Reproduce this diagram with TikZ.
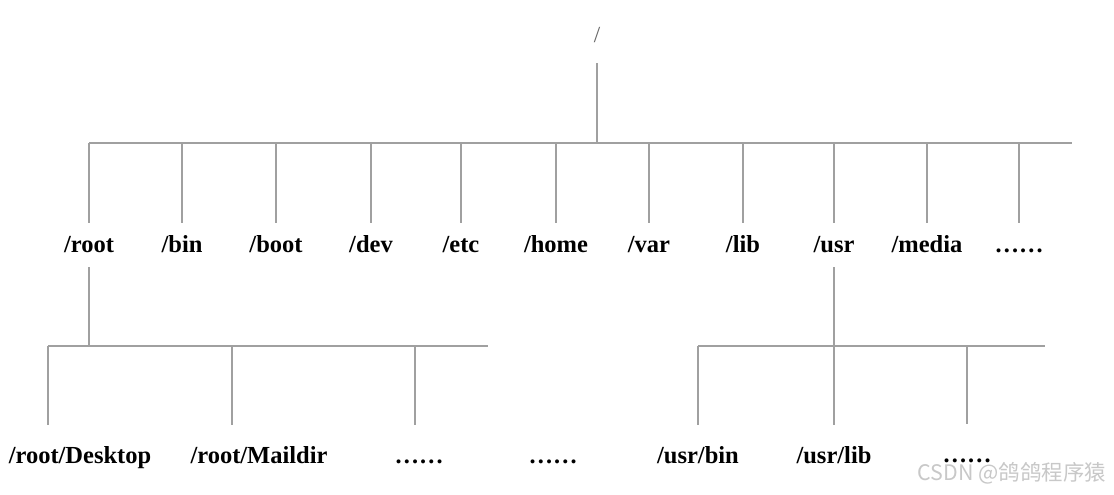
\documentclass[tikz,border=0pt]{standalone}
\usepackage{fontspec}
\setmainfont{Liberation Serif}
\newfontfamily\cjk{Noto Sans CJK SC}
\usetikzlibrary{positioning}
\definecolor{linegray}{RGB}{160,160,160}
\definecolor{slashgray}{RGB}{100,100,100}
\definecolor{wmgray}{RGB}{200,200,200}

\begin{document}
\begin{tikzpicture}[x=1pt,y=-1pt,
  ln/.style={draw=linegray,line width=1.4pt},
  dir/.style={font=\fontsize{24.5}{28}\selectfont\bfseries,anchor=base,
    text height=17pt,text depth=3pt,inner xsep=1pt,inner ysep=#1},
  dir/.default=12pt]
\fill[white] (0,0) rectangle (1114,495);
\useasboundingbox (0,0) rectangle (1114,495);
% top of the tree
\node[font=\fontsize{23}{26}\selectfont,text=slashgray,anchor=base,
  text depth=0pt,inner ysep=20pt] (rootdir) at (597,43) {/};
\coordinate (busl) at (89,143);
\coordinate (busr) at (1072,143);
\draw[ln] (rootdir.south) -- (rootdir.south |- busl);
\draw[ln] (busl) -- (busr);
% first level
\foreach \x/\nm/\lbl in {89/root/{/root},182/bin/{/bin},276/boot/{/boot},
    371/dev/{/dev},461/etc/{/etc},556/home/{/home},649/var/{/var},
    743/lib/{/lib},834/usr/{/usr},927/media/{/media},1019/more/{……}}{
  \node[dir] (\nm) at (\x,252) {\lbl};
  \draw[ln] (\nm.north) -- (\nm.north |- busl);
}
% below /root
\coordinate (rbusl) at (48,346);
\coordinate (rbusr) at (488,346);
\draw[ln] (root.south) -- (root.south |- rbusl);
\draw[ln] (rbusl) -- (rbusr);
\node[dir=21pt] (desk) at (80,463) {/root/Desktop};
\node[dir=21pt] (mail) at (259,463) {/root/Maildir};
\node[dir=21pt] (rmore) at (419,463) {……};
\node[dir=21pt] (gap) at (553,463) {……};
\coordinate (dk) at (48,346);
\coordinate (ml) at (232,346);
\coordinate (rm) at (415,346);
\draw[ln] (dk) -- (dk |- desk.north);
\draw[ln] (ml) -- (ml |- mail.north);
\draw[ln] (rm) -- (rm |- rmore.north);
% below /usr
\coordinate (ubusl) at (698,346);
\coordinate (ubusr) at (1045,346);
\draw[ln] (usr.south) -- (usr.south |- ubusl);
\draw[ln] (ubusl) -- (ubusr);
\node[dir=21pt] (ubin) at (698,463) {/usr/bin};
\node[dir=21pt] (ulib) at (834,463) {/usr/lib};
\node[dir=21pt] (umore) at (967,462) {……};
\foreach \nm in {ubin,ulib,umore}
  \draw[ln] (\nm.north) -- (\nm.north |- ubusl);
% watermark
\node[font=\cjk\fontsize{21.4}{24}\selectfont,text=wmgray,anchor=east,
  inner sep=0pt] (mark) at (1106,473) {CSDN @鸽鸽程序猿};
\end{tikzpicture}
\end{document}
